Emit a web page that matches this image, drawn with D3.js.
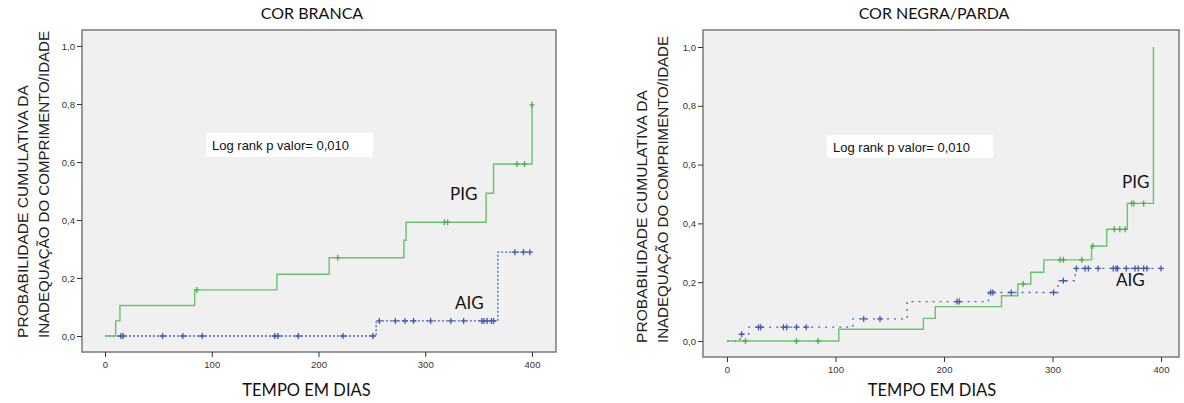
<!DOCTYPE html>
<html>
<head>
<meta charset="utf-8">
<script src="https://cdn.jsdelivr.net/npm/d3@7"></script>
<style>
  body { margin: 0; background: #fff; }
  svg { display: block; }
</style>
</head>
<body>
<svg id="chart" width="1184" height="403"></svg>
<script>
// step curves: [dias, probabilidade cumulativa]
const brancaPig = [[0, 0], [10, 0.052], [14, 0.105], [84, 0.159], [161, 0.213], [210, 0.27],
  [280, 0.33], [282, 0.392], [357, 0.492], [364, 0.593], [400, 0.797]]
const brancaPigCensor = [86, 218, 318, 321, 386, 393, 400]
const brancaAig = [[0, 0], [254, 0.052], [368, 0.289]]
const brancaAigCensor = [15, 17, 54, 73, 91, 159, 162, 181, 223, 251, 257, 272, 281, 289, 305,
  324, 336, 353, 355, 358, 362, 364, 384, 392, 398]

const negraPig = [[0, 0], [103, 0.04], [181, 0.077], [192, 0.117], [253, 0.154], [268, 0.194],
  [280, 0.234], [292, 0.276], [336, 0.323], [350, 0.38], [369, 0.468], [393, 1.0]]
const negraPigCensor = [17, 64, 84, 273, 307, 310, 327, 337, 357, 362, 367, 373, 375, 384]
const negraAig = [[0, 0], [12, 0.023], [20, 0.047], [116, 0.075], [166, 0.134], [241, 0.165],
  [305, 0.205], [321, 0.247]]
const negraAigCensor = [13.5, 29, 31, 52, 55, 64, 73, 126, 141, 212, 214, 243, 245, 262, 301,
  310, 322, 330, 333, 342, 356, 358.5, 360, 368, 376, 379, 384, 387, 400]

const xTicks = [0, 100, 200, 300, 400]
const yTicks = [0, 0.2, 0.4, 0.6, 0.8, 1.0]
const yTitle = ['PROBABILIDADE CUMULATIVA DA', 'INADEQUAÇÃO DO COMPRIMENTO/IDADE']
const xTitle = 'TEMPO EM DIAS'
const logRank = 'Log rank p valor= 0,010'

const GREEN = '#66c469'
const BLUE = '#5063b8'
const svg = d3.select('#chart')
const fmt = (v) => d3.format('.1f')(v).replace('.', ',')

const valueAt = (steps, t) => {
  let v = 0
  steps.forEach((s) => { if (t >= s[0]) v = s[1] })
  return v
}

const drawPanel = (opts) => {
  const { frame, xRange, yRange, title, pig, pigCensor, aig, aigCensor, tEnd, labels } = opts
  const g = svg.append('g')

  const x = d3.scaleLinear().domain([0, 400]).range(xRange)
  const y = d3.scaleLinear().domain([0, 1]).range(yRange)

  g.append('rect')
    .attr('x', frame[0]).attr('y', frame[1])
    .attr('width', frame[2] - frame[0]).attr('height', frame[3] - frame[1])
    .attr('fill', '#f0f0f0')
    .attr('stroke', '#7a7a7a')
    .attr('stroke-width', 1.5)

  const yAxis = d3.axisLeft(y).tickValues(yTicks).tickFormat(fmt).tickSize(5).tickPadding(2)
  g.append('g')
    .attr('transform', `translate(${frame[0]},0)`)
    .call(yAxis)
    .call((a) => a.select('.domain').remove())
    .call((a) => a.selectAll('text').attr('font-family', 'Liberation Sans, Arial').attr('font-size', 9.5).attr('fill', '#333'))
    .call((a) => a.selectAll('line').attr('stroke', '#333'))

  const xAxis = d3.axisBottom(x).tickValues(xTicks).tickSize(5).tickPadding(4)
  g.append('g')
    .attr('transform', `translate(0,${frame[3]})`)
    .call(xAxis)
    .call((a) => a.select('.domain').remove())
    .call((a) => a.selectAll('text').attr('font-family', 'Liberation Sans, Arial').attr('font-size', 9.5).attr('fill', '#333'))
    .call((a) => a.selectAll('line').attr('stroke', '#333'))

  const line = d3.line()
    .x((d) => x(d[0]))
    .y((d) => y(d[1]))
    .curve(d3.curveStepAfter)

  const aigPts = aig.concat([[400, aig[aig.length - 1][1]]])
  const pigPts = pig.concat([[tEnd, pig[pig.length - 1][1]]])

  g.append('path')
    .attr('d', line(aigPts))
    .attr('fill', 'none')
    .attr('stroke', BLUE)
    .attr('stroke-width', 1.3)
    .attr('stroke-dasharray', opts.dash)

  g.append('path')
    .attr('d', line(pigPts))
    .attr('fill', 'none')
    .attr('stroke', GREEN)
    .attr('stroke-width', 1.4)

  const cross = (sel, steps, times, color, half) => {
    sel.selectAll(null)
      .data(times)
      .enter()
      .append('path')
      .attr('d', (t) => {
        const cx = x(t)
        const cy = y(valueAt(steps, t))
        return `M ${cx - half} ${cy} H ${cx + half} M ${cx} ${cy - 3} V ${cy + 3}`
      })
      .attr('stroke', color)
      .attr('stroke-width', 1.3)
  }
  cross(g, aig, aigCensor, '#4457b0', 3)
  cross(g, pig, pigCensor, '#4cb050', 2.5)

  g.append('text')
    .attr('x', (frame[0] + frame[2]) / 2 - 7)
    .attr('y', 19)
    .attr('text-anchor', 'middle')
    .attr('font-family', 'Lato, Open Sans, sans-serif')
    .attr('font-size', 16)
    .attr('fill', '#111')
    .text(title)

  const lens = [253, 307]
  yTitle.forEach((s, i) => {
    g.append('text')
      .attr('transform', `translate(${opts.yTitleX + i * 21},${frame[3] - 14}) rotate(-90)`)
      .attr('font-family', 'Liberation Sans, Arial')
      .attr('font-size', 15.5)
      .attr('fill', '#222')
      .attr('textLength', lens[i])
      .attr('lengthAdjust', 'spacingAndGlyphs')
      .text(s)
  })

  g.append('text')
    .attr('x', (xRange[0] + xRange[1]) / 2 - 12)
    .attr('y', 396)
    .attr('text-anchor', 'middle')
    .attr('font-family', 'Lato, Open Sans, sans-serif')
    .attr('font-size', 16.5)
    .attr('fill', '#111')
    .text(xTitle)

  const box = opts.box
  g.append('rect')
    .attr('x', box[0]).attr('y', box[1])
    .attr('width', box[2]).attr('height', box[3])
    .attr('fill', '#fff')
  g.append('text')
    .attr('x', box[0] + 6)
    .attr('y', box[1] + 17)
    .attr('font-family', 'Liberation Sans, Arial')
    .attr('font-size', 13)
    .attr('fill', '#111')
    .text(logRank)

  labels.forEach((l) => {
    g.append('text')
      .attr('x', l.x).attr('y', l.y)
      .attr('font-family', 'Lato, Open Sans, sans-serif')
      .attr('font-size', 17)
      .attr('fill', '#111')
      .text(l.text)
  })
}

drawPanel({
  frame: [82, 30, 556, 352],
  xRange: [105, 532],
  yRange: [336, 46],
  title: 'COR BRANCA',
  pig: brancaPig,
  pigCensor: brancaPigCensor,
  aig: brancaAig,
  aigCensor: brancaAigCensor,
  tEnd: 400,
  dash: '2,2',
  yTitleX: 28,
  box: [206, 133, 167, 24],
  labels: [{ text: 'PIG', x: 450, y: 200 }, { text: 'AIG', x: 455, y: 309 }]
})

drawPanel({
  frame: [703, 30, 1179, 357],
  xRange: [727, 1161],
  yRange: [341, 47],
  title: 'COR NEGRA/PARDA',
  pig: negraPig,
  pigCensor: negraPigCensor,
  aig: negraAig,
  aigCensor: negraAigCensor,
  tEnd: 393,
  dash: '2,5',
  yTitleX: 647,
  box: [827, 135, 166, 23],
  labels: [{ text: 'PIG', x: 1122, y: 188 }, { text: 'AIG', x: 1116, y: 286 }]
})
</script>
</body>
</html>
